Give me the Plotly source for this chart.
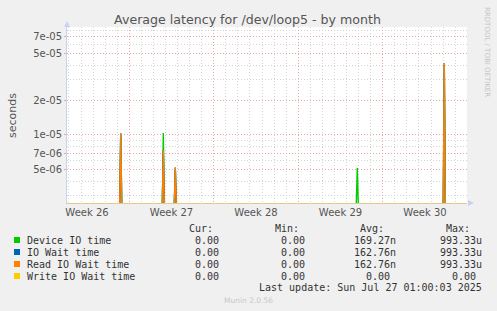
import plotly.graph_objects as go
from datetime import datetime, timedelta

# ---------------- data ----------------
series_names = ["Device IO time", "IO Wait time", "Read IO Wait time", "Write IO Wait time"]
series_colors = ["#00cc00", "#0066b3", "#ff8000", "#ffcc00"]

spike_times = ["2025-06-29 07:00", "2025-07-02 19:40", "2025-07-03 19:30",
               "2025-07-18 21:20", "2025-07-26 02:20"]
device_io = [1.00e-5, 1.04e-5, 5.0e-6, 5.2e-6, 4.0e-5]
io_wait = [1.04e-5, 7.4e-6, 5.24e-6, 0.0, 4.14e-5]
read_io_wait = [1.04e-5, 7.4e-6, 5.24e-6, 0.0, 4.14e-5]
write_io_wait = [0.0, 0.0, 0.0, 0.0, 0.0]

cur_vals = ["0.00", "0.00", "0.00", "0.00"]
min_vals = ["0.00", "0.00", "0.00", "0.00"]
avg_vals = ["169.27n", "162.76n", "162.76n", "0.00"]
max_vals = ["993.33u", "993.33u", "993.33u", "0.00"]

week_labels = ["Week 26", "Week 27", "Week 28", "Week 29", "Week 30"]
week_mids = ["2025-06-26 12:00", "2025-07-03 12:00", "2025-07-10 12:00",
             "2025-07-17 12:00", "2025-07-24 12:00"]
week_starts = ["2025-06-30", "2025-07-07", "2025-07-14", "2025-07-21", "2025-07-28"]

y_major = [5e-6, 7e-6, 1e-5, 2e-5, 5e-5, 7e-5]
y_major_text = ["5e-06", "7e-06", "1e-05", "2e-05", "5e-05", "7e-05"]
y_minor = [3e-6, 4e-6, 6e-6, 8e-6, 9e-6, 3e-5, 4e-5, 6e-5, 8e-5]

title_text = "Average latency for /dev/loop5 - by month"
last_update = "Last update: Sun Jul 27 01:00:03 2025"

# ---------------- layout constants ----------------
W, H = 497, 311
PL, PR, PT, PB = 67, 467, 27, 203
X_START = "2025-06-24 20:10"
X_END = "2025-07-27 23:30"
Y_RANGE = [-5.585, -4.071]
FLOOR = 10 ** -5.6  # zero values are drawn just below the log axis floor
STEP = timedelta(hours=2)


def px2x(px):
    return (px - PL) / (PR - PL)


def py2y(py):
    return (PB - py) / (PB - PT)


def build(values):
    xs = [datetime.fromisoformat(X_START)]
    ys = [FLOOR]
    for t, v in zip(spike_times, values):
        tt = datetime.fromisoformat(t)
        xs += [tt - STEP, tt, tt + STEP]
        ys += [FLOOR, v if v > 0 else FLOOR, FLOOR]
    xs.append(datetime.fromisoformat(X_END))
    ys.append(FLOOR)
    return xs, ys


fig = go.Figure()
all_series = [device_io, io_wait, read_io_wait, write_io_wait]
for i, (name, col, vals) in enumerate(zip(series_names, series_colors, all_series)):
    xs, ys = build(vals)
    fig.add_trace(go.Scatter(
        x=xs, y=ys, mode="lines", name=name,
        line=dict(color=col, width=1.4),
        xaxis="x2" if i == 3 else "x", yaxis="y",
        showlegend=False, hoverinfo="skip"))

red_grid = "#e8a8a8"
gray_grid = "#d4d4d4"
dash = "1px,2px"

fig.update_layout(
    width=W, height=H,
    margin=dict(l=PL, r=W - PR, t=PT, b=H - PB),
    paper_bgcolor="#f0f0f0", plot_bgcolor="#ffffff",
    font=dict(family="DejaVu Sans", size=10, color="#555555"),
    title=dict(text=title_text, x=0.498, xref="container", xanchor="center",
               y=1 - 19.5 / H, yanchor="middle",
               font=dict(family="DejaVu Sans", size=12.6, color="#555555")),
    xaxis=dict(type="date", range=[X_START, X_END],
               tickmode="array", tickvals=week_starts, showticklabels=False,
               ticks="", showgrid=True, gridcolor=red_grid, griddash=dash, gridwidth=1,
               minor=dict(dtick=86400000, tick0="2025-06-23", showgrid=True,
                          gridcolor=gray_grid, griddash=dash, gridwidth=1, ticks=""),
               showline=True, linecolor="#e2c98c", linewidth=1, zeroline=False),
    xaxis2=dict(type="date", range=[X_START, X_END], overlaying="x", anchor="y",
                side="bottom", tickmode="array", tickvals=week_mids, ticktext=week_labels,
                showgrid=False, ticks="", showline=False, zeroline=False,
                ticklabelstandoff=2,
                tickfont=dict(family="DejaVu Sans", size=10, color="#555555")),
    yaxis=dict(type="log", range=Y_RANGE, tickmode="array",
               tickvals=y_major, ticktext=y_major_text,
               ticks="outside", ticklen=2, tickcolor=red_grid,
               showgrid=True, gridcolor=red_grid, griddash=dash, gridwidth=1,
               minor=dict(tickmode="array", tickvals=y_minor, showgrid=True,
                          gridcolor=gray_grid, griddash=dash, gridwidth=1, ticks=""),
               showline=True, linecolor="#c8d2f2", linewidth=1, zeroline=False,
               tickfont=dict(family="DejaVu Sans", size=10, color="#555555")),
)

shapes = []
# axis arrows
shapes.append(dict(type="path", xref="paper", yref="paper",
                   path=f"M {px2x(64)} {py2y(27)} L {px2x(70)} {py2y(27)} L {px2x(67)} {py2y(21)} Z",
                   fillcolor="#c8d2f2", line=dict(width=0)))
shapes.append(dict(type="path", xref="paper", yref="paper",
                   path=f"M {px2x(468)} {py2y(200)} L {px2x(468)} {py2y(206)} L {px2x(474)} {py2y(203)} Z",
                   fillcolor="#c8d2f2", line=dict(width=0)))

annotations = []
row_y = [240, 252, 264, 276]
NB = "\u00a0"
for i, (name, col) in enumerate(zip(series_names, series_colors)):
    y = row_y[i]
    shapes.append(dict(type="rect", xref="paper", yref="paper",
                       x0=px2x(14), x1=px2x(20), y0=py2y(y + 3), y1=py2y(y - 3),
                       fillcolor=col, line=dict(width=0)))
    annotations.append(dict(text=name, x=px2x(26), y=py2y(y), xref="paper", yref="paper",
                            xanchor="left", yanchor="middle", showarrow=False))
    for vals, right in ((cur_vals, 225.5), (min_vals, 311.5), (avg_vals, 397), (max_vals, 483)):
        v = vals[i]
        txt = v if v[-1].isalpha() else v + NB
        annotations.append(dict(text=txt, x=px2x(right), y=py2y(y), xref="paper", yref="paper",
                                xanchor="right", yanchor="middle", showarrow=False))

for hdr, right in (("Cur:", 213.5), ("Min:", 299.5), ("Avg:", 384.5), ("Max:", 470.5)):
    annotations.append(dict(text=hdr, x=px2x(right), y=py2y(228), xref="paper", yref="paper",
                            xanchor="right", yanchor="middle", showarrow=False))

annotations.append(dict(text=last_update, x=px2x(483), y=py2y(287.5), xref="paper", yref="paper",
                        xanchor="right", yanchor="middle", showarrow=False))

for a in annotations:
    a["font"] = dict(family="DejaVu Sans Mono", size=10, color="#333333")
    a["borderpad"] = 0

annotations.append(dict(text="seconds", x=px2x(12), y=py2y(115), xref="paper", yref="paper",
                        xanchor="center", yanchor="middle", showarrow=False, textangle=-90,
                        borderpad=0,
                        font=dict(family="DejaVu Sans", size=11, color="#555555")))
annotations.append(dict(text="RRDTOOL / TOBI OETIKER", x=px2x(487), y=py2y(52), xref="paper",
                        yref="paper", xanchor="center", yanchor="middle", showarrow=False,
                        textangle=90, borderpad=0,
                        font=dict(family="DejaVu Sans", size=7, color="#c4c4c4")))
annotations.append(dict(text="Munin 2.0.56", x=px2x(248), y=py2y(300), xref="paper", yref="paper",
                        xanchor="center", yanchor="middle", showarrow=False, borderpad=0,
                        font=dict(family="DejaVu Sans", size=7.5, color="#c8c8c8")))

fig.update_layout(shapes=shapes, annotations=annotations)
fig.write_html("out.html")
